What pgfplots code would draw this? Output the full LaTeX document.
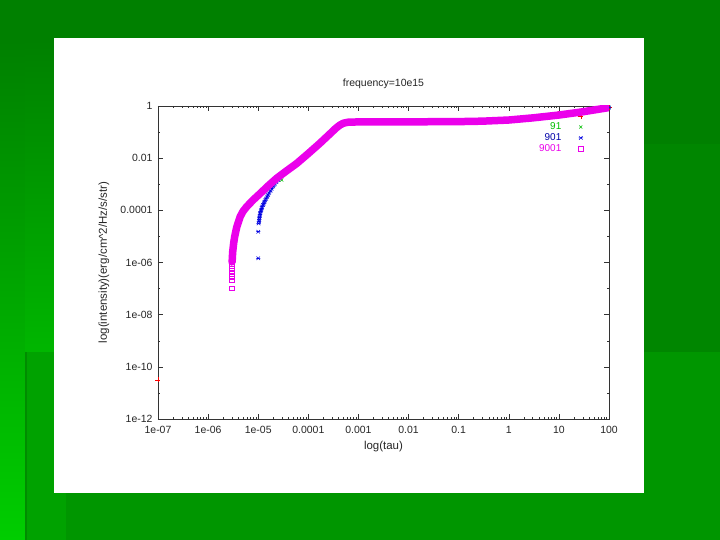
\documentclass[border=0pt]{standalone}
\usepackage{pgfplots}
\pgfplotsset{compat=1.18}
\usepackage{fontspec}
\setmainfont{Liberation Sans}
\definecolor{bgA}{RGB}{0,128,0}
\definecolor{bgL}{RGB}{0,205,0}
\definecolor{bgM}{RGB}{0,182,0}
\definecolor{bgB}{RGB}{0,150,0}
\definecolor{bgC}{RGB}{0,162,0}
\definecolor{bgD}{RGB}{0,134,0}
\definecolor{bgE}{RGB}{0,140,0}
\definecolor{gpred}{RGB}{255,0,0}
\definecolor{gpgreen}{RGB}{0,190,0}
\definecolor{gpblue}{RGB}{0,0,225}
\definecolor{gpmag}{RGB}{235,0,235}
\pgfdeclareplotmark{gpstar}{%
  \pgfpathmoveto{\pgfqpoint{-\pgfplotmarksize}{0pt}}%
  \pgfpathlineto{\pgfqpoint{\pgfplotmarksize}{0pt}}%
  \pgfpathmoveto{\pgfqpoint{-0.8\pgfplotmarksize}{-0.8\pgfplotmarksize}}%
  \pgfpathlineto{\pgfqpoint{0.8\pgfplotmarksize}{0.8\pgfplotmarksize}}%
  \pgfpathmoveto{\pgfqpoint{-0.8\pgfplotmarksize}{0.8\pgfplotmarksize}}%
  \pgfpathlineto{\pgfqpoint{0.8\pgfplotmarksize}{-0.8\pgfplotmarksize}}%
  \pgfusepathqstroke}
\pgfplotsset{
  every axis/.append style={
    at={(158bp,121bp)}, anchor=south west,
    scale only axis, width=451bp, height=313bp,
    xmin=1e-7, xmax=100, ymin=1e-12, ymax=1,
    xtick={1e-7,1e-6,1e-5,1e-4,1e-3,1e-2,1e-1,1,10,100},
    xticklabels={1e-07,1e-06,1e-05,0.0001,0.001,0.01,0.1,1,10,100},
    ytick={1,1e-2,1e-4,1e-6,1e-8,1e-10,1e-12},
    yticklabels={1,0.01,0.0001,1e-06,1e-08,1e-10,1e-12},
    minor ytick={1e-1,1e-3,1e-5,1e-7,1e-9,1e-11},
    minor xtick={2e-7,3e-7,4e-7,5e-7,6e-7,7e-7,8e-7,9e-7,
                 2e-6,3e-6,4e-6,5e-6,6e-6,7e-6,8e-6,9e-6,
                 2e-5,3e-5,4e-5,5e-5,6e-5,7e-5,8e-5,9e-5,
                 2e-4,3e-4,4e-4,5e-4,6e-4,7e-4,8e-4,9e-4,
                 2e-3,3e-3,4e-3,5e-3,6e-3,7e-3,8e-3,9e-3,
                 0.02,0.03,0.04,0.05,0.06,0.07,0.08,0.09,
                 0.2,0.3,0.4,0.5,0.6,0.7,0.8,0.9,
                 2,3,4,5,6,7,8,9,
                 20,30,40,50,60,70,80,90},
    tick align=inside,
    major tick length=5bp, minor tick length=2.5bp,
    axis line style={black!80, line width=0.6bp},
    every tick/.style={black!80, line width=0.5bp},
    tick label style={font=\fontsize{10.5}{12}\selectfont, text=black!85},
    xticklabel style={yshift=-4bp},
    yticklabel style={xshift=-2bp},
    label style={font=\fontsize{11.5}{13}\selectfont, text=black!85},
    title style={font=\fontsize{10.5}{12}\selectfont, text=black!85, at={(0.5,1.051)}, anchor=center},
    xlabel style={at={(0.5,-0.088)}, anchor=center},
    ylabel style={at={(-0.12,0.5)}, anchor=center},
  }
}
\begin{document}
\begin{tikzpicture}
\useasboundingbox (0,0) rectangle (720bp,540bp);
\fill[bgA] (0,0) rectangle (720bp,540bp);
\shade[top color=bgA, bottom color=bgL] (0,0) rectangle (25bp,500bp);
\shade[top color=bgA, bottom color=bgM] (25bp,188bp) rectangle (54bp,500bp);
\fill[bgD] (644bp,188bp) rectangle (720bp,396bp);
\fill[bgB] (25bp,0) rectangle (720bp,188bp);
\fill[bgC] (25bp,0) rectangle (66bp,188bp);
\fill[bgE] (25bp,0) rectangle (27bp,188bp);
\fill[white] (54bp,47bp) rectangle (644bp,502bp);

\begin{loglogaxis}[
  /pgf/number format/assume math mode=true,
  title={frequency=10e15},
  xlabel={log(tau)},
  ylabel={log(intensity)(erg/cm\textasciicircum 2/Hz/s/str)},
  legend cell align=right, legend plot pos=right,
  legend style={draw=none, fill=none, at={(0.9435,0.988)}, anchor=north east,
    font=\fontsize{10}{11}\selectfont, inner sep=0pt, row sep=-1.5pt,
    /tikz/every odd column/.append style={column sep=15bp}},
]
\addplot[only marks, mark=+, gpred, mark size=2.5bp, mark options={line width=0.5bp}]
  coordinates {(1e-7,3.16e-11) (100,0.87)};
\addlegendentry{\textcolor{gpred}{1}}
\addplot[only marks, mark=x, gpgreen, mark size=2.2bp, mark options={line width=0.5bp}]
  coordinates {(2.95e-5,1.45e-3) (1e-4,0.0151) (1e-3,0.245) (1,0.29) (100,0.87)};
\addlegendentry{\textcolor{gpgreen}{91}}
\addplot[only marks, mark=gpstar, gpblue, mark size=2.2bp, mark options={line width=0.5bp}]
  coordinates {(1e-5,1.45e-6) (1e-5,1.51e-5) (1.02e-5,3.16e-5) (1.035e-5,3.8e-5) (1.05e-5,4.47e-5)
  (1.06e-5,5.2e-5) (1.07e-5,6.03e-5) (1.085e-5,7.0e-5) (1.10e-5,7.94e-5) (1.125e-5,9.2e-5)
  (1.15e-5,1.05e-4) (1.175e-5,1.2e-4) (1.20e-5,1.38e-4) (1.245e-5,1.6e-4) (1.29e-5,1.82e-4)
  (1.33e-5,2.1e-4) (1.38e-5,2.40e-4) (1.44e-5,2.8e-4) (1.51e-5,3.31e-4) (1.58e-5,3.9e-4)
  (1.66e-5,4.68e-4) (1.76e-5,5.6e-4) (1.86e-5,6.76e-4) (2.0e-5,8.2e-4) (2.14e-5,1.0e-3)
  (2.32e-5,1.2e-3) (2.51e-5,1.45e-3) (3.72e-5,3.31e-3) (1e-4,0.0151) (1e-3,0.245) (1,0.29) (100,0.87)};
\addlegendentry{\textcolor{gpblue!75!black}{901}}
\addlegendimage{only marks, mark=square, gpmag, mark size=2.2bp, mark options={line width=0.5bp}}
\addlegendentry{\textcolor{gpmag}{9001}}
\end{loglogaxis}

\begin{loglogaxis}[hide axis]
\addplot[gpmag, line width=7.5bp, line join=round, line cap=round]
  coordinates {(3.0e-6,1.05e-6) (3.02e-6,1.12e-6) (3.09e-6,2.51e-6) (3.24e-6,5.62e-6) (3.39e-6,9.77e-6)
  (3.72e-6,2.24e-5) (4.37e-6,5.75e-5) (5.01e-6,9.33e-5) (5.89e-6,1.38e-4) (7.94e-6,2.51e-4)
  (1.10e-5,4.47e-4) (1.58e-5,8.71e-4) (2.34e-5,1.70e-3) (3.72e-5,3.31e-3) (5.89e-5,6.31e-3)
  (1e-4,0.0151) (1.70e-4,0.0372) (2.69e-4,0.0851) (3.55e-4,0.141) (4.27e-4,0.186)
  (5.01e-4,0.219) (6.31e-4,0.240) (1e-3,0.245) (0.01,0.247) (0.1,0.252) (0.3,0.262)
  (1,0.29) (3,0.35) (10,0.45) (30,0.60) (100,0.87)};
\addplot[only marks, mark=square, gpmag, mark size=2.2bp, mark options={line width=0.5bp}]
  coordinates {(2.95e-6,1.05e-7) (2.95e-6,2.14e-7) (2.95e-6,2.82e-7) (2.95e-6,3.72e-7)
  (2.95e-6,4.79e-7) (2.95e-6,6.03e-7) (2.95e-6,7.41e-7) (2.95e-6,8.91e-7) (2.95e-6,1.05e-6)};
\end{loglogaxis}
\end{tikzpicture}
\end{document}
